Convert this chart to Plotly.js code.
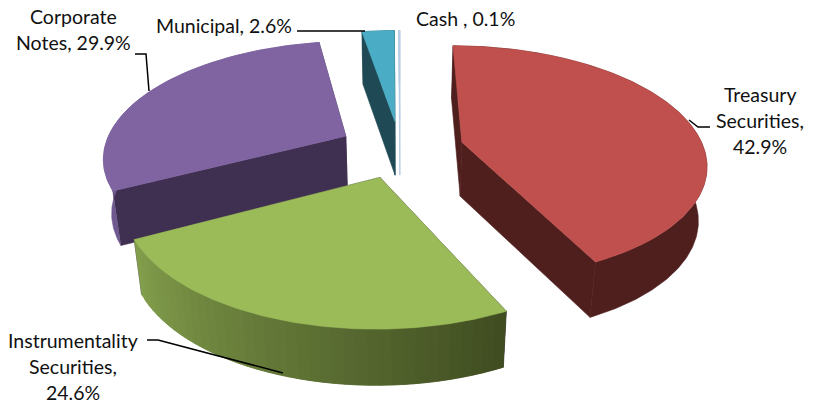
<!DOCTYPE html>
<html>
<head>
<meta charset="utf-8">
<script src="https://cdn.plot.ly/plotly-3.0.1.min.js"></script>
<style>html,body{margin:0;padding:0;background:#fff}#chart{width:817px;height:404px}</style>
</head>
<body>
<div id="chart"></div>
<script>
// Portfolio composition, percent of holdings
const categories = ["Treasury Securities", "Instrumentality Securities", "Corporate Notes", "Municipal", "Cash"];
const shares = [42.9, 24.6, 29.9, 2.6, 0.1];
const topColors = ["#C0504D", "#9BBB59", "#8064A2", "#4BACC6", "#B9CDE5"];
const sideColors = ["#4F1F1E", "#3F2F50", "#3F2F50", "#1F4A55", "#B9CDE5"];
const rimStart = ["#4F1F1E", "#84A04D", "#6F5790", "#1F4A55", "#B9CDE5"];
const rimEnd = ["#4F1F1E", "#3F4C20", "#6F5790", "#1F4A55", "#B9CDE5"];
const explode = [0.265, 0.25, 0.255, 0.25, 0.25];
// back slices are painted first so the nearer ones cover them
const paintOrder = [4, 3, 2, 0, 1];

// Perspective projection of the tilted disc onto the page
const view = {cx: 400, cy: 149, a: 242, b: 115, k: 0.17, depth: 54, depthGrow: 0.15, taper: 0.972};
function project(X, Y, lower) {
  const s = 1 / (1 + view.k * Y);
  let x = view.cx + view.a * X * s;
  let y = view.cy - view.b * Y * s;
  if (lower) {
    x = view.cx + (x - view.cx) * view.taper;
    y += view.depth * (1 + view.depthGrow * (s - 1));
  }
  return [x, y];
}

const total = shares.reduce((a, b) => a + b, 0);
let running = 0;
const slices = shares.map((v, i) => {
  const from = running / total * 2 * Math.PI;
  running += v;
  const to = running / total * 2 * Math.PI;
  const mid = (from + to) / 2;
  return {from, to, ox: explode[i] * Math.sin(mid), oy: explode[i] * Math.cos(mid)};
});

function rimPoint(s, t, lower) {
  return project(s.ox + Math.sin(t), s.oy + Math.cos(t), lower);
}
function polygon(points, color) {
  return {
    type: "scatter", mode: "lines", hoverinfo: "skip", showlegend: false,
    x: points.map(p => p[0]), y: points.map(p => p[1]),
    fill: "toself", fillcolor: color, line: {color: color, width: 0.6}
  };
}
function hexMix(c1, c2, u) {
  const ch = (c, n) => parseInt(c.substr(1 + 2 * n, 2), 16);
  const out = [0, 1, 2].map(n => Math.round(ch(c1, n) + (ch(c2, n) - ch(c1, n)) * u));
  return `rgb(${out.join(",")})`;
}
function arcBand(s, t0, t1) {
  const m = Math.max(2, Math.ceil((t1 - t0) / 0.01));
  const pts = [];
  for (let j = 0; j <= m; j++) pts.push(rimPoint(s, t0 + (t1 - t0) * j / m, false));
  for (let j = m; j >= 0; j--) pts.push(rimPoint(s, t0 + (t1 - t0) * j / m, true));
  return pts;
}

const traces = [];
paintOrder.forEach(i => {
  const s = slices[i];
  const hubTop = project(s.ox, s.oy, false), hubLow = project(s.ox, s.oy, true);
  // radial walls
  [s.from, s.to].forEach(t => {
    traces.push(polygon([hubTop, rimPoint(s, t, false), rimPoint(s, t, true), hubLow, hubTop], sideColors[i]));
  });
  // curved outer wall, shaded along the arc; bands overlap so no seams show
  const n = rimStart[i] === rimEnd[i] ? 1 : Math.ceil((s.to - s.from) / 0.04);
  const step = (s.to - s.from) / n;
  for (let j = 0; j < n; j++) {
    const t0 = s.to - step * (j + 1), t1 = s.to - step * j;
    const u = (j + 0.5) / n;
    traces.push(polygon(arcBand(s, Math.max(s.from, t0 - step), t1), hexMix(rimStart[i], rimEnd[i], u)));
  }
  // flat upper face
  const face = [hubTop];
  for (let j = 0; j <= 120; j++) face.push(rimPoint(s, s.from + (s.to - s.from) * j / 120, false));
  face.push(hubTop);
  traces.push(polygon(face, topColors[i]));
});

// Leader lines from labels to slices
const leaders = [
  {xs: [689, 698, 710], ys: [120, 127, 127]},
  {xs: [147, 158, 283], ys: [340, 340, 373]},
  {xs: [135, 146, 149], ys: [54, 54, 91]},
  {xs: [297, 365], ys: [31, 31]}
];
leaders.forEach(l => traces.push({
  type: "scatter", mode: "lines", x: l.xs, y: l.ys, hoverinfo: "skip", showlegend: false,
  line: {color: "#000", width: 1.5}
}));

// One annotation for each line of label text
const labelLines = [
  {text: "Treasury", x: 760, y: 94}, {text: "Securities,", x: 760, y: 120}, {text: shares[0] + "%", x: 760, y: 146},
  {text: "Instrumentality", x: 73, y: 340}, {text: "Securities,", x: 73, y: 366}, {text: shares[1] + "%", x: 73, y: 392},
  {text: "Corporate", x: 73, y: 16}, {text: "Notes, " + shares[2] + "%", x: 73, y: 42},
  {text: "Municipal, " + shares[3] + "%", x: 224, y: 25},
  {text: "Cash , " + shares[4] + "%", x: 465, y: 18}
];

const layout = {
  width: 817, height: 404,
  margin: {l: 0, r: 0, t: 0, b: 0},
  paper_bgcolor: "#fff", plot_bgcolor: "#fff",
  xaxis: {range: [0, 817], visible: false, fixedrange: true},
  yaxis: {range: [404, 0], visible: false, fixedrange: true},
  annotations: labelLines.map(l => ({
    text: l.text, x: l.x, y: l.y, xref: "x", yref: "y", showarrow: false,
    xanchor: "center", yanchor: "middle",
    font: {family: "Lato, 'Open Sans', sans-serif", size: 19.5, color: "#111"}
  }))
};
Plotly.newPlot("chart", traces, layout, {staticPlot: true, displayModeBar: false});
</script>
</body>
</html>
